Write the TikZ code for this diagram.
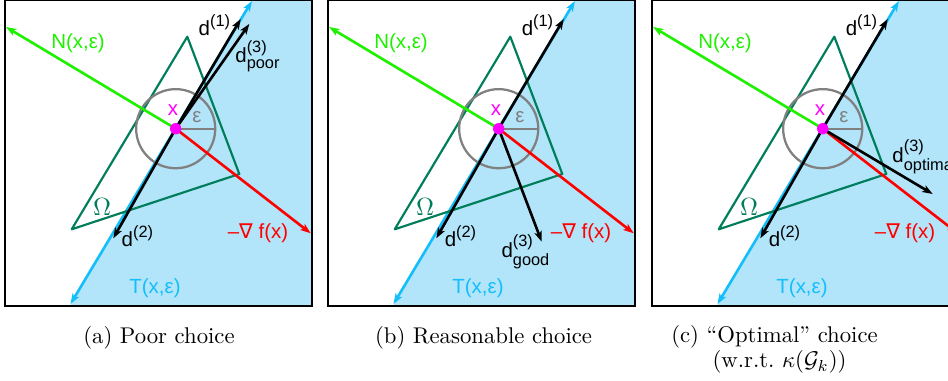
\documentclass[tikz,border=0pt]{standalone}
\usepackage{amsmath}
\usepackage{fontspec}
\setsansfont{Liberation Sans}
\newfontfamily\nablafont{DejaVu Sans}
\usepackage{tikz}
\usetikzlibrary{arrows.meta}
\definecolor{halfblue}{RGB}{178,229,250}
\definecolor{tanblue}{RGB}{20,190,250}
\definecolor{normgreen}{RGB}{30,240,0}
\definecolor{omegagreen}{RGB}{0,125,90}
\definecolor{ballgray}{RGB}{128,128,128}
\definecolor{pointmag}{RGB}{255,0,255}
\definecolor{gradred}{RGB}{255,0,0}
\tikzset{>={Stealth[length=4.6pt,width=3.3pt,inset=1.2pt]}}
\tikzstyle{arrow}   = [line width=1.15pt, ->]
\tikzstyle{twoway}  = [line width=1.15pt, <->]
\tikzstyle{frame}   = [line width=0.5pt]
\tikzstyle{omega}   = [line width=0.95pt, omegagreen, line join=round]
\tikzstyle{ball}    = [line width=1pt, ballgray]
\tikzstyle{lbl}     = [font=\sffamily\fontsize{9}{10}\selectfont, inner sep=0pt]
\tikzstyle{subcap}  = [font=\fontsize{10}{12}\selectfont, inner sep=0pt]
\tikzset{every node/.style={align=center}}

\newcommand{\scr}[1]{\mbox{\sffamily\fontsize{7.2}{8}\selectfont #1}}
\newcommand{\dlab}[2]{$\textsf{d}^{\scr{(#1)}}_{\scr{#2}}$}

% one panel, #1 = tip of d(3)
\newcommand{\basepanel}[1]{%
  \coordinate (x)   at (175.7,128.7);
  \coordinate (top) at (251.9,1);
  \coordinate (bot) at (70.5,304);
  \coordinate (n)   at (6,27);
  \coordinate (g)   at (310.7,233.3);
  \coordinate (d1)  at (240.7,19);
  \coordinate (d2)  at (113.3,238.3);
  \coordinate (d3)  at #1;
  \coordinate (o1)  at (187.3,36.7);
  \coordinate (o2)  at (239.3,174);
  \coordinate (o3)  at (71.7,229.3);
  \coordinate (r)   at (215.2,128.7);
  \fill [halfblue] (252.5,0) -- (312,0) -- (312,306) -- (69.9,306) -- cycle;
  \draw [frame] (5,0) rectangle (312,306);
  \draw [twoway, tanblue] (bot) -- (top);
  \draw [omega] (o1) -- (o2) -- (o3) -- cycle;
  \draw [ball] (x) circle (17.4pt);
  \draw [ball] (x) -- (r);
  \draw [arrow, normgreen] (x) -- (n);
  \draw [arrow, gradred] (x) -- (g);
  \draw [arrow] (x) -- (d1);
  \draw [arrow] (x) -- (d2);
  \draw [arrow] (x) -- (d3);
  \fill [pointmag] (x) circle (2.5pt);
  \node (nl)  at (78,43)   [lbl, normgreen] {N(x,ε)};
  \node (tl)  at (155,288) [lbl, tanblue]   {T(x,ε)};
  \node (gl)  at (258,233) [lbl, gradred]   {–{\nablafont∇} f(x)};
  \node (xl)  at (173,110) [lbl, pointmag]  {x};
  \node (el)  at (197,117) [lbl, ballgray]  {ε};
  \node (ol)  at (102,207) [omegagreen, font=\fontsize{11}{12}\selectfont, inner sep=0pt] {$\Omega$};
  \node (d1l) at (215,25)  [lbl] {$\textsf{d}^{\scr{(1)}}$};
  \node (d2l) at (138,236) [lbl] {$\textsf{d}^{\scr{(2)}}$};
}

\begin{document}
\begin{tikzpicture}[x=0.44pt, y=-0.44pt]
    \useasboundingbox (0,0) rectangle (948,381);

    \begin{scope}[name prefix=a-]
        \basepanel{(249.3,24)}
        \node (d3l) at (258,56) [lbl] {\dlab{3}{poor}};
    \end{scope}

    \begin{scope}[shift={(323,0)}, name prefix=b-]
        \basepanel{(218.7,241.7)}
        \node (d3l) at (203,252) [lbl] {\dlab{3}{good}};
    \end{scope}

    \begin{scope}[shift={(647,0)}, name prefix=c-]
        \basepanel{(285.7,194)}
        \node (d3l) at (245,157) [lbl, anchor=west] {\dlab{3}{optimal}};
    \end{scope}

    \node (capa)  at (159,338)   [subcap] {(a) Poor choice};
    \node (capb)  at (483.5,338) [subcap] {(b) Reasonable choice};
    \node (capc)  at (774.5,337) [subcap] {(c) ``Optimal'' choice};
    \node (capc2) at (779.5,362) [subcap] {(w.r.t.\ $\kappa(\mathcal{G}_k)$)};
\end{tikzpicture}
\end{document}
